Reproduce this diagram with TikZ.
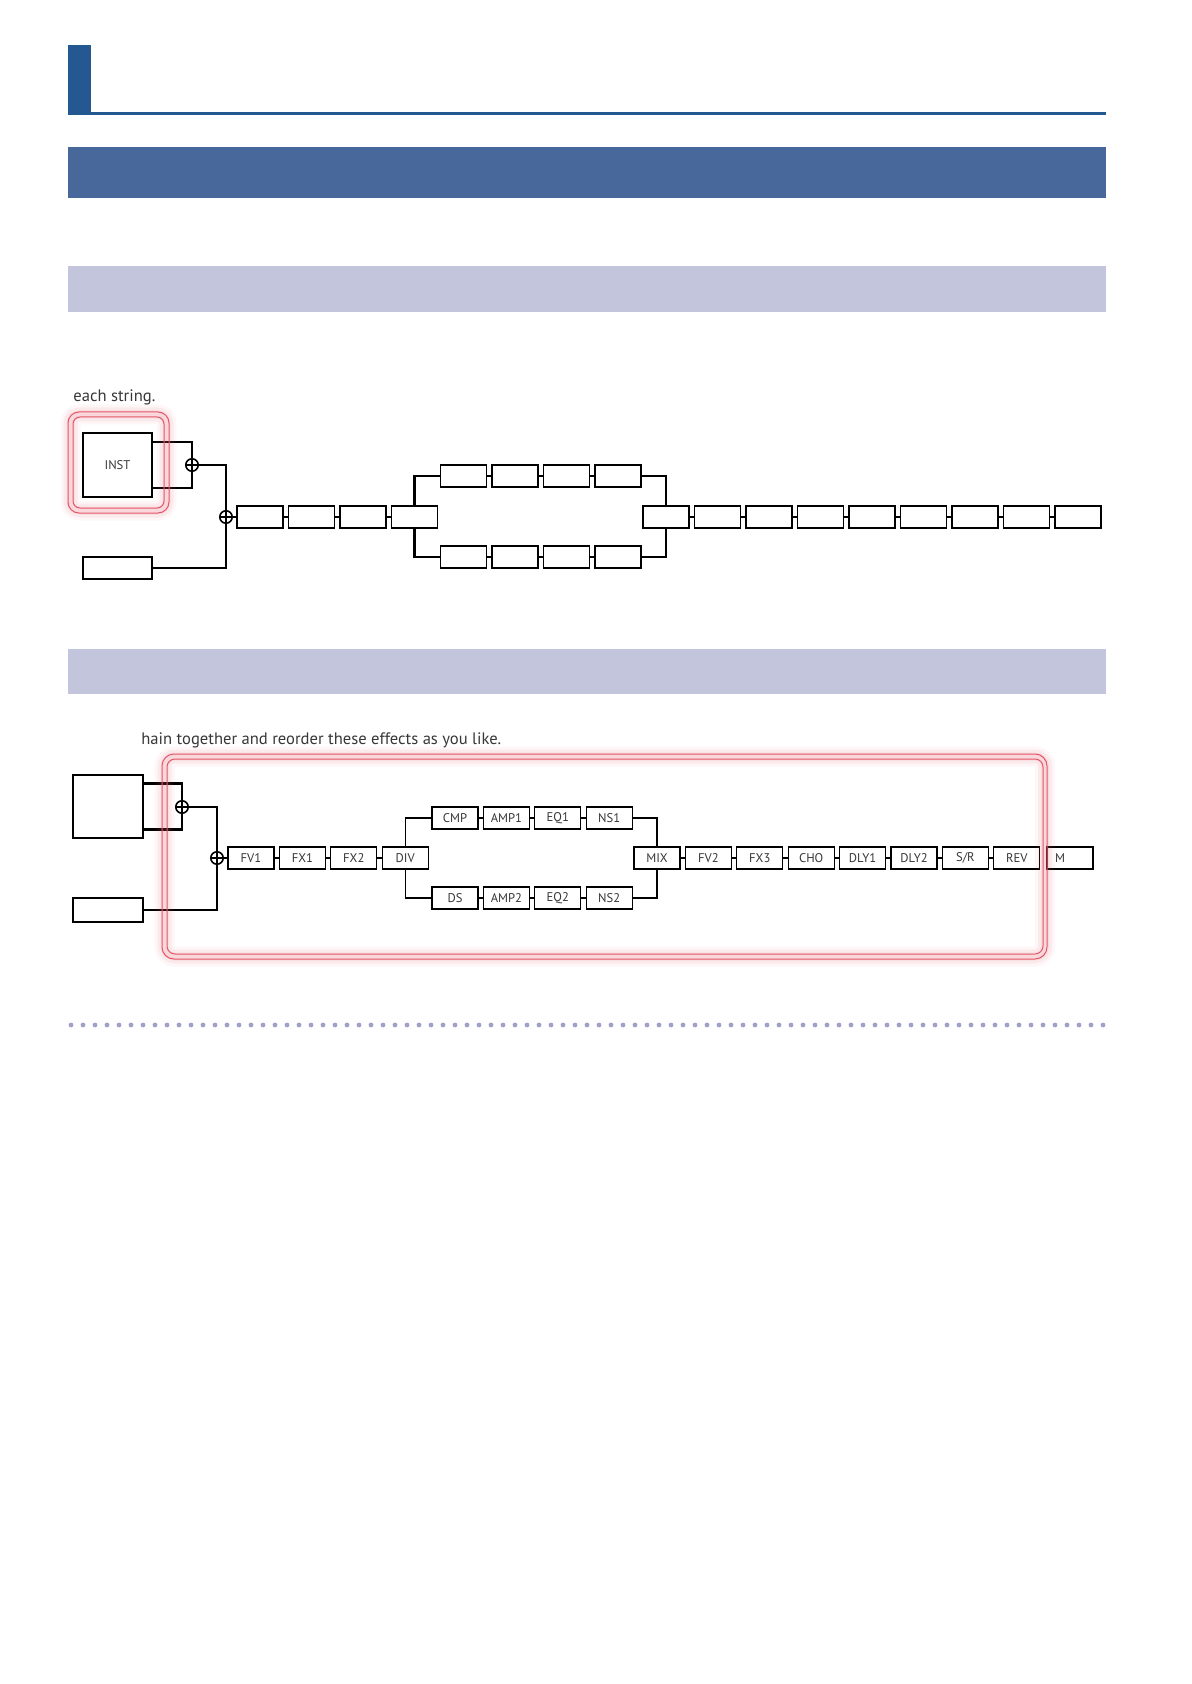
\documentclass[tikz,border=0pt]{standalone}
\usepackage{fontspec}
\setmainfont{PT Sans}
\usetikzlibrary{calc,positioning}
\definecolor{titleblue}{RGB}{36,88,145}
\definecolor{bandblue}{RGB}{72,104,156}
\definecolor{bandlav}{RGB}{194,197,220}
\definecolor{dotlav}{RGB}{160,160,200}
\definecolor{framered}{RGB}{226,88,104}
\definecolor{textgray}{RGB}{55,55,55}
\tikzset{
  wire/.style       = {line width=0.6pt},
  heavy wire/.style = {line width=1.1pt},
  fxbox/.style      = {draw, line width=0.55pt, fill=white, inner sep=0pt,
                       minimum width=23pt, minimum height=11pt,
                       font=\fontsize{6.3}{7}\selectfont, text=textgray},
  srcbox/.style     = {draw, line width=0.55pt, fill=white, inner sep=0pt,
                       font=\fontsize{6.3}{7}\selectfont, text=textgray},
  mixer/.style      = {circle, draw, line width=0.8pt, fill=white,
                       minimum size=6.2pt, inner sep=0pt,
                       path picture={\draw[line width=0.8pt]
                         (path picture bounding box.north) -- (path picture bounding box.south)
                         (path picture bounding box.west) -- (path picture bounding box.east);}},
  frame/.style      = {draw=framered, line width=0.5pt},
  bodytext/.style   = {font=\fontsize{8.3}{10}\selectfont, text=textgray, inner sep=0pt},
}

\begin{document}
\begin{tikzpicture}[x=0.5pt,y=-0.5pt]
  \useasboundingbox (0,0) rectangle (1191,1684);

  % =======================================================================
  %  Page heading and section bands
  % =======================================================================
  \fill[titleblue] (68,45) rectangle (91,114.5);
  \fill[titleblue] (68,111.7) rectangle (1106,114.7);
  \fill[bandblue] (68,147) rectangle (1106,198);
  \fill[bandlav] (68,266) rectangle (1106,312);
  \fill[bandlav] (68,649) rectangle (1106,694);

  % =======================================================================
  %  First chain (empty blocks)
  % =======================================================================
  \node[bodytext,anchor=base west] (s1note) at (73,402) {each string.};

  \node[srcbox,minimum width=34.5pt,minimum height=32pt] (s1inst) at (117.5,465) {INST};
  \node[srcbox,minimum width=34.5pt,minimum height=11pt] (s1pu) at (117.5,568) {};
  \node[mixer] (s1sum1) at (192,465) {};
  \node[mixer] (s1sum2) at (226,517) {};

  \foreach \nm [count=\i from 0] in {fv1,fx1,fx2,div}
    \node[fxbox] (s1\nm) at ({260+51.5*\i},517) {};
  \foreach \nm [count=\i from 0] in {cmp,amp1,eq1,ns1}
    \node[fxbox] (s1\nm) at ({463.5+51.5*\i},476) {};
  \foreach \nm [count=\i from 0] in {ds,amp2,eq2,ns2}
    \node[fxbox] (s1\nm) at ({463.5+51.5*\i},557) {};
  \foreach \nm [count=\i from 0] in {mix,fv2,fx3,cho,dly1,dly2,sr,rev,m}
    \node[fxbox] (s1\nm) at ({666+51.5*\i},517) {};

  % inputs into the two mixers
  \draw[heavy wire] ($(s1inst.east)+(0,-23)$) -| (s1sum1.north);
  \draw[heavy wire] ($(s1inst.east)+(0,23)$) -| (s1sum1.south);
  \draw[heavy wire] (s1sum1.east) -| (s1sum2.north);
  \draw[heavy wire] (s1pu.east) -| (s1sum2.south);
  \draw[wire] (s1sum2.east) -- (s1fv1.west);

  % series links and the two branches
  \foreach \a/\b in {fv1/fx1,fx1/fx2,fx2/div,cmp/amp1,amp1/eq1,eq1/ns1,
                     ds/amp2,amp2/eq2,eq2/ns2,mix/fv2,fv2/fx3,fx3/cho,
                     cho/dly1,dly1/dly2,dly2/sr,sr/rev,rev/m}
    \draw[wire] (s1\a) -- (s1\b);
  \draw[heavy wire] (s1div.north) |- (s1cmp.west);
  \draw[heavy wire] (s1div.south) |- (s1ds.west);
  \draw[wire] (s1ns1.east) -| (s1mix.north);
  \draw[wire] (s1ns2.east) -| (s1mix.south);

  % highlight round the instrument block
  \foreach \w/\o in {10/0.05,7/0.08,4/0.12}
    \draw[framered,line width=\w pt,opacity=\o,rounded corners=4.5pt]
      (70.5,414.5) rectangle (166.5,510.5);
  \draw[frame,rounded corners=5.5pt] (68,412) rectangle (169,513);
  \draw[frame,rounded corners=3.5pt] (73,417) rectangle (164,508);

  % =======================================================================
  %  Second chain (labelled blocks)
  % =======================================================================
  \node[bodytext,anchor=base west] (s2note) at (141,744)
        {hain together and reorder these effects as you like.};

  \node[srcbox,minimum width=35pt,minimum height=31.5pt] (s2inst) at (108,806.5) {};
  \node[srcbox,minimum width=35pt,minimum height=12pt] (s2pu) at (108,910) {};
  \node[mixer] (s2sum1) at (182,807) {};
  \node[mixer] (s2sum2) at (217,858) {};

  \foreach \nm/\lbl [count=\i from 0] in {fv1/FV1,fx1/FX1,fx2/FX2,div/DIV}
    \node[fxbox] (s2\nm) at ({251+51.4*\i},858) {\lbl};
  \foreach \nm/\lbl [count=\i from 0] in {cmp/CMP,amp1/AMP1,eq1/EQ1,ns1/NS1}
    \node[fxbox] (s2\nm) at ({455+51.4*\i},818) {\lbl};
  \foreach \nm/\lbl [count=\i from 0] in {ds/DS,amp2/AMP2,eq2/EQ2,ns2/NS2}
    \node[fxbox] (s2\nm) at ({455+51.4*\i},898) {\lbl};
  \foreach \nm/\lbl [count=\i from 0] in {mix/MIX,fv2/FV2,fx3/FX3,cho/CHO,
                                          dly1/DLY1,dly2/DLY2,sr/{S/R},rev/REV}
    \node[fxbox] (s2\nm) at ({657+51.4*\i},858) {\lbl};
  \node[fxbox,text width=15pt,align=left] (s2m) at (1070,858) {M};

  \draw[heavy wire] ($(s2inst.east)+(0,-23)$) -| (s2sum1.north);
  \draw[heavy wire] ($(s2inst.east)+(0,23)$) -| (s2sum1.south);
  \draw[heavy wire] (s2sum1.east) -| (s2sum2.north);
  \draw[heavy wire] (s2pu.east) -| (s2sum2.south);
  \draw[wire] (s2sum2.east) -- (s2fv1.west);

  \foreach \a/\b in {fv1/fx1,fx1/fx2,fx2/div,cmp/amp1,amp1/eq1,eq1/ns1,
                     ds/amp2,amp2/eq2,eq2/ns2,mix/fv2,fv2/fx3,fx3/cho,
                     cho/dly1,dly1/dly2,dly2/sr,sr/rev}
    \draw[wire] (s2\a) -- (s2\b);
  \draw[wire] (s2div.north) |- (s2cmp.west);
  \draw[wire] (s2div.south) |- (s2ds.west);
  \draw[wire] (s2ns1.east) -| (s2mix.north);
  \draw[wire] (s2ns2.east) -| (s2mix.south);

  % highlight round the editable part
  \foreach \w/\o in {10/0.05,7/0.08,4/0.12}
    \draw[framered,line width=\w pt,opacity=\o,rounded corners=5pt]
      (164.5,756.5) rectangle (1045,956.5);
  \draw[frame,rounded corners=6pt] (162,754) rectangle (1047,959);
  \draw[frame,rounded corners=4pt] (167,759) rectangle (1043,954);

  % =======================================================================
  %  Dotted separator
  % =======================================================================
  \foreach \i in {0,...,86}
    \fill[dotlav] ({71+12*\i},1025) circle (1.2pt);
\end{tikzpicture}
\end{document}
